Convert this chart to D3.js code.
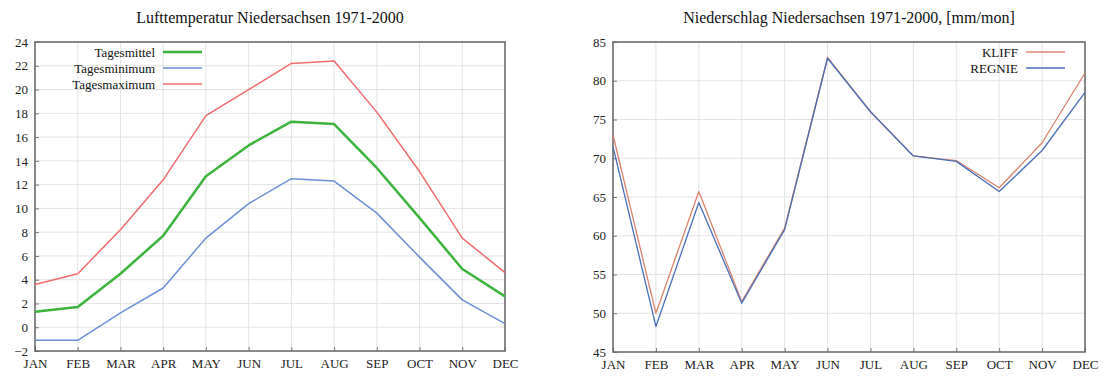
<!DOCTYPE html>
<html lang="de">
<head>
<meta charset="UTF-8">
<title>Niedersachsen 1971-2000</title>
<script src="https://cdn.jsdelivr.net/npm/d3@7"></script>
<style>
  body { margin: 0; background: #fff; }
  svg { display: block; font-family: "Liberation Serif", "DejaVu Serif", serif; }
  .title { font-size: 16px; fill: #111; }
  .tick text { font-size: 13px; fill: #222; font-family: "Liberation Serif", serif; }
  .grid line { stroke: #e3e3e3; }
  .leg { font-size: 13px; fill: #111; }
</style>
</head>
<body>
<svg width="1111" height="376"></svg>
<script>
// months and series values
const months = ["JAN","FEB","MAR","APR","MAY","JUN","JUL","AUG","SEP","OCT","NOV","DEC"];
const tagesmittel = [1.3, 1.7, 4.5, 7.7, 12.7, 15.3, 17.3, 17.1, 13.4, 9.2, 4.9, 2.6];
const tagesminimum = [-1.1, -1.1, 1.2, 3.3, 7.5, 10.4, 12.5, 12.3, 9.6, 5.9, 2.3, 0.3];
const tagesmaximum = [3.6, 4.5, 8.2, 12.4, 17.8, 20.0, 22.2, 22.4, 18.1, 13.1, 7.5, 4.6];
const kliff = [73.0, 50.0, 65.7, 51.5, 61.0, 83.0, 76.0, 70.3, 69.7, 66.2, 72.0, 81.0];
const regnie = [71.5, 48.3, 64.3, 51.3, 60.8, 82.9, 76.0, 70.3, 69.6, 65.7, 71.0, 78.5];
const tempTicks = d3.range(-2, 25, 2);
const rainTicks = d3.range(45, 86, 5);

const svg = d3.select("svg");

function panel(opt) {
  const g = svg.append("g");
  const x = d3.scalePoint().domain(months).range([opt.left, opt.right]);
  const y = d3.scaleLinear().domain(opt.domain).range([opt.bottom, opt.top]);

  // grid
  const grid = g.append("g").attr("class", "grid");
  grid.selectAll(".gx").data(months).join("line")
    .attr("x1", d => x(d)).attr("x2", d => x(d))
    .attr("y1", opt.top).attr("y2", opt.bottom);
  grid.selectAll(".gy").data(opt.ticks).join("line")
    .attr("x1", opt.left).attr("x2", opt.right)
    .attr("y1", d => y(d)).attr("y2", d => y(d));

  // axes
  const ax = g.append("g").attr("transform", `translate(0,${opt.bottom})`)
    .call(d3.axisBottom(x).tickSize(-4).tickPadding(8));
  const ay = g.append("g").attr("transform", `translate(${opt.left},0)`)
    .call(d3.axisLeft(y).tickValues(opt.ticks).tickSize(-4).tickPadding(7));
  [ax, ay].forEach(a => {
    a.attr("font-family", null);
    a.select(".domain").remove();
    a.selectAll(".tick line").attr("stroke", "#777");
  });

  // frame
  g.append("rect")
    .attr("x", opt.left).attr("y", opt.top)
    .attr("width", opt.right - opt.left).attr("height", opt.bottom - opt.top)
    .attr("fill", "none").attr("stroke", "#666").attr("stroke-width", 1.5);

  // lines
  const line = d3.line().x((d, i) => x(months[i])).y(d => y(d));
  opt.series.forEach(s => {
    g.append("path").datum(s.values)
      .attr("fill", "none").attr("stroke", s.color)
      .attr("stroke-width", s.width).attr("stroke-linejoin", "round")
      .attr("d", line);
  });

  // legend
  opt.series.forEach((s, i) => {
    const ly = opt.top + 10 + i * 16;
    g.append("text").attr("class", "leg")
      .attr("x", opt.legX).attr("y", ly).attr("dy", "0.35em")
      .attr("text-anchor", "end").text(s.name);
    g.append("line")
      .attr("x1", opt.legX + 8).attr("x2", opt.legX + 47)
      .attr("y1", ly).attr("y2", ly)
      .attr("stroke", s.color).attr("stroke-width", s.width);
  });

  // title
  svg.append("text").attr("class", "title")
    .attr("x", (opt.left + opt.right) / 2).attr("y", 23)
    .attr("text-anchor", "middle").text(opt.title);
}

panel({
  left: 35, right: 505, top: 42, bottom: 351,
  domain: [-2, 24], ticks: tempTicks,
  title: "Lufttemperatur Niedersachsen 1971-2000",
  legX: 155,
  series: [
    { name: "Tagesmittel", values: tagesmittel, color: "#3cb33c", width: 2.5 },
    { name: "Tagesminimum", values: tagesminimum, color: "#6b8fd6", width: 1.5 },
    { name: "Tagesmaximum", values: tagesmaximum, color: "#f26b6b", width: 1.5 }
  ]
});

panel({
  left: 613, right: 1085, top: 42, bottom: 352,
  domain: [45, 85], ticks: rainTicks,
  title: "Niederschlag Niedersachsen 1971-2000, [mm/mon]",
  legX: 1018,
  series: [
    { name: "KLIFF", values: kliff, color: "#d9826e", width: 1.3 },
    { name: "REGNIE", values: regnie, color: "#4a6fb8", width: 1.3 }
  ]
});
</script>
</body>
</html>
